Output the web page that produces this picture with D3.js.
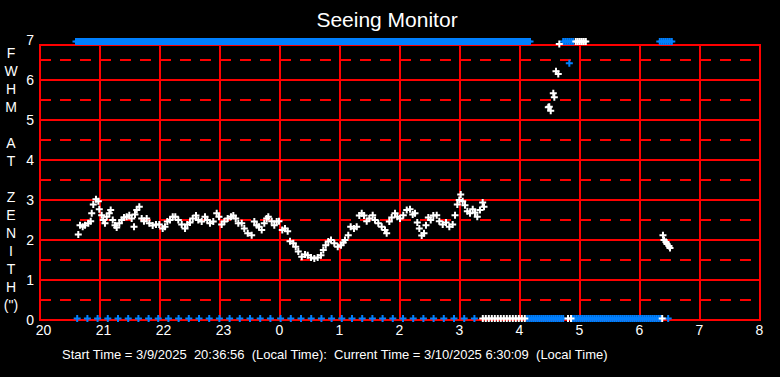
<!DOCTYPE html>
<html>
<head>
<meta charset="utf-8">
<script src="https://cdn.jsdelivr.net/npm/d3@7"></script>
<style>
  html, body { margin: 0; padding: 0; background: #000; }
  svg { display: block; }
  text { font-family: "Liberation Sans", Arial, sans-serif; fill: #fff; }
</style>
</head>
<body>
<svg id="svg-seeing" width="780" height="377"></svg>
<script>
// Seeing Monitor – FWHM at zenith over the night (hours, wrapping past midnight as 24+)

// seeing measurements (hour of night, FWHM arcsec)
const seeingHours = [
  20.638, 20.667, 20.712, 20.75, 20.805, 20.845, 20.862, 20.888, 20.933, 20.972,
  20.988, 21.028, 21.055, 21.083, 21.112, 21.155, 21.178, 21.212, 21.25, 21.278,
  21.322, 21.362, 21.4, 21.445, 21.488, 21.528, 21.567, 21.583, 21.612, 21.655,
  21.695, 21.733, 21.778, 21.822, 21.878, 21.933, 21.988, 22.045, 22.083, 22.122,
  22.167, 22.212, 22.255, 22.305, 22.362, 22.417, 22.455, 22.5, 22.545, 22.6,
  22.638, 22.695, 22.75, 22.788, 22.833, 22.888, 22.945, 22.983, 23.028, 23.072,
  23.128, 23.183, 23.222, 23.262, 23.305, 23.362, 23.405, 23.462, 23.528, 23.572,
  23.612, 23.65, 23.695, 23.738, 23.778, 23.805, 23.862, 23.905, 23.945, 23.983,
  24.038, 24.083, 24.128, 24.167, 24.222, 24.262, 24.305, 24.362, 24.417, 24.462,
  24.517, 24.572, 24.628, 24.683, 24.722, 24.762, 24.805, 24.85, 24.905, 24.962,
  25.017, 25.055, 25.083, 25.138, 25.178, 25.233, 25.278, 25.322, 25.362, 25.4,
  25.445, 25.488, 25.545, 25.583, 25.638, 25.695, 25.75, 25.778, 25.822, 25.862,
  25.917, 25.955, 26.0, 26.055, 26.112, 26.167, 26.212, 26.25, 26.288, 26.322,
  26.362, 26.4, 26.433, 26.472, 26.512, 26.555, 26.612, 26.655, 26.712, 26.767,
  26.822, 26.878, 26.917, 26.955, 26.988, 27.012, 27.045, 27.083, 27.122, 27.167,
  27.212, 27.25, 27.288, 27.333, 27.378, 27.4,
  28.472, 28.488, 28.512, 28.555, 28.572, 28.6, 28.638, 28.655,
  30.383, 30.4, 30.433, 30.45, 30.483, 30.5
];
const seeingFwhm = [
  2.14, 2.37, 2.33, 2.37, 2.42, 2.47, 2.67, 2.89, 3.02, 2.97,
  2.77, 2.62, 2.5, 2.42, 2.58, 2.67, 2.75, 2.5, 2.37, 2.31,
  2.42, 2.5, 2.56, 2.58, 2.62, 2.54, 2.33, 2.64, 2.75, 2.83,
  2.54, 2.47, 2.54, 2.42, 2.36, 2.39, 2.39, 2.29, 2.33, 2.46,
  2.5, 2.58, 2.58, 2.5, 2.39, 2.29, 2.39, 2.44, 2.54, 2.61,
  2.5, 2.46, 2.58, 2.5, 2.42, 2.46, 2.67, 2.58, 2.39, 2.46,
  2.54, 2.58, 2.61, 2.54, 2.42, 2.42, 2.29, 2.17, 2.12, 2.46,
  2.37, 2.33, 2.25, 2.42, 2.54, 2.58, 2.47, 2.37, 2.46, 2.47,
  2.25, 2.29, 2.22, 1.97, 1.92, 1.83, 1.71, 1.58, 1.64, 1.62,
  1.56, 1.54, 1.56, 1.62, 1.75, 1.87, 1.96, 2.0, 1.92, 1.83,
  1.87, 1.94, 2.0, 2.12, 2.33, 2.29, 2.33, 2.61, 2.67, 2.61,
  2.47, 2.54, 2.62, 2.5, 2.42, 2.33, 2.25, 2.17, 2.46, 2.56,
  2.67, 2.58, 2.54, 2.62, 2.75, 2.77, 2.64, 2.67, 2.44, 2.29,
  2.11, 2.17, 2.37, 2.56, 2.5, 2.61, 2.62, 2.47, 2.39, 2.44,
  2.33, 2.39, 2.62, 2.89, 3.0, 3.14, 2.97, 2.87, 2.72, 2.67,
  2.77, 2.69, 2.58, 2.75, 2.94, 2.83,
  5.32, 5.33, 5.23, 5.67, 5.57, 6.22, 6.15, 6.9,
  2.12, 2.0, 1.95, 1.9, 1.85, 1.8
];

// single blue measurement off the strip
const blueHours = [28.822];
const blueFwhm = [6.42];

// status flags along the top edge and the bottom edge: [from, to] runs
const topBlueRuns = [[20.6, 28.17], [28.72, 28.9], [30.33, 30.55]];
const topWhiteRuns = [[28.93, 29.1]];
const bottomBlueRuns = [[28.12, 28.75], [28.88, 30.35]];
const bottomWhiteRuns = [[27.38, 28.12], [28.8, 28.86]];
// sparse bottom flags (every ~10 min)
const bottomBlueTicks = [
  20.62, 20.79, 20.96, 21.13, 21.30, 21.47, 21.64, 21.81, 21.97, 22.14,
  22.31, 22.48, 22.65, 22.82, 22.99, 23.16, 23.33, 23.50, 23.67, 23.84,
  24.01, 24.18, 24.35, 24.52, 24.69, 24.86, 25.03, 25.20, 25.37, 25.54,
  25.71, 25.88, 26.05, 26.22, 26.39, 26.56, 26.73, 26.90, 27.07, 27.24, 30.47
];
const bottomWhiteTicks = [30.37];
const topFlagValue = 6.96;
const bottomFlagValue = 0.04;

const xTickValues = [20, 21, 22, 23, 24, 25, 26, 27, 28, 29, 30, 31, 32];
const yTickValues = [0, 1, 2, 3, 4, 5, 6, 7];
const yTitle = ["F", "W", "H", "M", "", "A", "T", "", "Z", "E", "N", "I", "T", "H", "(\")"];

const RED = "#ff0000";
const BLUE = "#0080ff";

const svg = d3.select("#svg-seeing");
svg.append("rect").attr("width", 780).attr("height", 377).attr("fill", "#000");

const xScale = d3.scaleLinear().domain([20, 32]).range([40, 760]);
const yScale = d3.scaleLinear().domain([0, 7]).range([320, 40]);

const frameTop = 45;

// Gitter
const grid = svg.append("g").attr("stroke", RED).attr("stroke-width", 2).attr("shape-rendering", "crispEdges");

grid.selectAll(".hdash")
  .data(d3.range(0.5, 7, 1))
  .enter()
  .append("line")
    .attr("x1", xScale(20))
    .attr("x2", xScale(32))
    .attr("y1", d => yScale(d))
    .attr("y2", d => yScale(d))
    .attr("stroke-dasharray", "11,9");

grid.selectAll(".hsolid")
  .data(yTickValues.filter(d => d > 0 && d < 7))
  .enter()
  .append("line")
    .attr("x1", xScale(20))
    .attr("x2", xScale(32))
    .attr("y1", d => yScale(d))
    .attr("y2", d => yScale(d));

grid.selectAll(".vsolid")
  .data(xTickValues.filter(d => d > 20 && d < 32))
  .enter()
  .append("line")
    .attr("x1", d => xScale(d))
    .attr("x2", d => xScale(d))
    .attr("y1", frameTop)
    .attr("y2", yScale(0));

grid.append("rect")
  .attr("x", xScale(20))
  .attr("y", frameTop)
  .attr("width", xScale(32) - xScale(20))
  .attr("height", yScale(0) - frameTop)
  .attr("fill", "none");

// Achsen (nur Beschriftung)
const xAxis = svg.append("g")
  .attr("transform", `translate(0,${yScale(0)})`)
  .call(d3.axisBottom(xScale).tickValues(xTickValues).tickSize(0).tickPadding(5)
    .tickFormat(d => String(d % 24)));
xAxis.select(".domain").remove();
xAxis.selectAll("text")
  .attr("font-size", 14)
  .attr("fill", "#fff")
  .attr("dx", d => (String(d % 24).length === 2 ? 3 : -1));

const yAxis = svg.append("g")
  .attr("transform", `translate(${xScale(20)},0)`)
  .call(d3.axisLeft(yScale).tickValues(yTickValues).tickSize(0).tickPadding(6)
    .tickFormat(d3.format("d")));
yAxis.select(".domain").remove();
yAxis.selectAll("text")
  .attr("font-size", 14)
  .attr("fill", "#fff");

svg.selectAll(".ytitle")
  .data(yTitle)
  .enter()
  .append("text")
    .attr("x", 11)
    .attr("y", (d, i) => 53 + i * 18)
    .attr("dy", "0.36em")
    .attr("text-anchor", "middle")
    .attr("font-size", 14)
    .text(d => d);

svg.append("text")
  .attr("x", 387)
  .attr("y", 27)
  .attr("text-anchor", "middle")
  .attr("font-size", 21)
  .text("Seeing Monitor");

svg.append("text")
  .attr("x", 62)
  .attr("y", 359)
  .attr("font-size", 13)
  .style("white-space", "pre")
  .text("Start Time = 3/9/2025  20:36:56  (Local Time):  Current Time = 3/10/2025 6:30:09  (Local Time)");

// Marker
function plus(x, y) {
  return `M${x - 3.5},${y}H${x + 3.5}M${x},${y - 3.5}V${y + 3.5}`;
}

function runPoints(runs, step) {
  const pts = [];
  runs.forEach(([a, b]) => {
    d3.range(a, b + 1e-6, step).forEach(h => pts.push(h));
  });
  return pts;
}

function drawMarks(hours, values, color) {
  svg.append("g")
    .selectAll("path")
    .data(hours.map((h, i) => [h, values[i]]))
    .enter()
    .append("path")
      .attr("d", d => plus(xScale(d[0]), yScale(d[1])))
      .attr("stroke", color)
      .attr("stroke-width", 2)
      .attr("fill", "none");
}

const topBlue = runPoints(topBlueRuns, 1 / 30);
const topWhite = runPoints(topWhiteRuns, 1 / 30);
const botBlue = runPoints(bottomBlueRuns, 1 / 30).concat(bottomBlueTicks);
const botWhite = runPoints(bottomWhiteRuns, 1 / 20).concat(bottomWhiteTicks);

drawMarks(topBlue, topBlue.map(() => topFlagValue), BLUE);
drawMarks(topWhite, topWhite.map(() => topFlagValue), "#fff");
drawMarks(botBlue, botBlue.map(() => bottomFlagValue), BLUE);
drawMarks(botWhite, botWhite.map(() => bottomFlagValue), "#fff");
drawMarks(seeingHours, seeingFwhm, "#fff");
drawMarks(blueHours, blueFwhm, BLUE);
</script>
</body>
</html>
